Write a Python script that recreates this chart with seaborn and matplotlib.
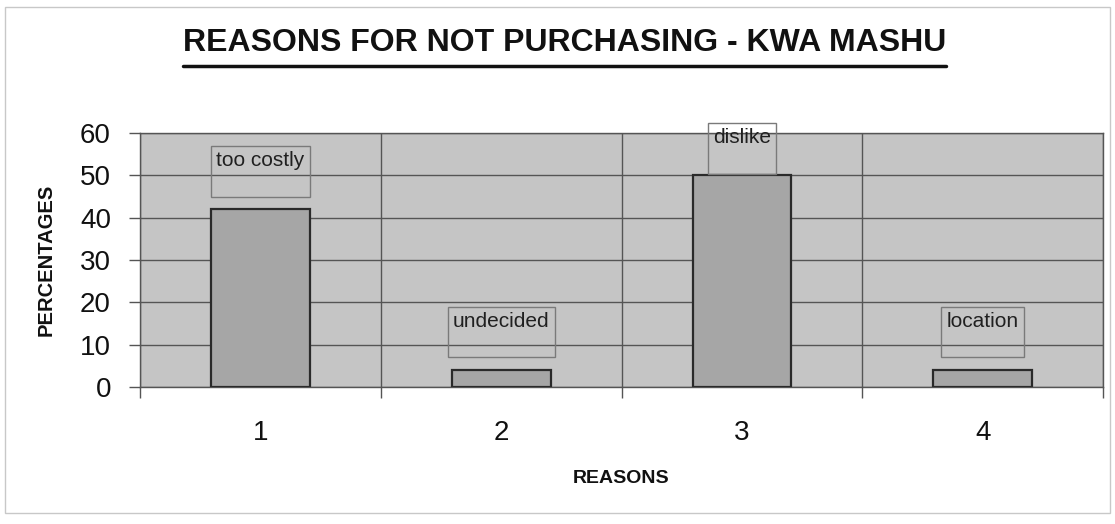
import numpy as np
import pandas as pd
import matplotlib
matplotlib.use("Agg")
import matplotlib.pyplot as plt
import seaborn as sns
from matplotlib.lines import Line2D
from matplotlib.patches import Rectangle

# 数据
reasons = ["1", "2", "3", "4"]
percentages = [42, 4, 50, 4]
bar_labels = ["too costly", "undecided", "dislike", "location"]
y_ticks = [0, 10, 20, 30, 40, 50, 60]

sns.set_style(style="white")
plt.rcParams["font.family"] = ["Liberation Sans", "DejaVu Sans"]

df = pd.DataFrame({"reason": reasons, "pct": percentages})

fig = plt.figure(figsize=(11.15, 5.24), dpi=100)
fig.patch.set_facecolor("white")
ax = fig.add_axes([0.1256, 0.2615, 0.8637, 0.4847])
ax.set_facecolor("#c5c5c5")

sns.barplot(data=df, x="reason", y="pct", color="#a6a6a6", width=0.41,
            edgecolor="#2a2a2a", linewidth=1.6, saturation=1, ax=ax, zorder=3)

# 数据标签：带框的文字，最高不超出绘图区太多
for i, (v, lab) in enumerate(zip(percentages, bar_labels)):
    ax.text(i, min(v + 4.2, 51.6), lab + "\n", ha="center", va="bottom", fontsize=15,
            color="#202020", linespacing=1.15, zorder=4, clip_on=False,
            bbox=dict(boxstyle="square,pad=0.25", facecolor="none",
                      edgecolor="#7a7a7a", linewidth=1))

ax.set_ylim(0, 60)
ax.set_xlim(-0.5, 3.5)
ax.set_yticks(y_ticks)
ax.set_xticks(range(len(reasons)))
ax.set_xticks(np.arange(-0.5, 4, 1), minor=True)
ax.grid(axis="y", which="major", color="#555555", linewidth=1, zorder=1)
ax.grid(axis="x", which="minor", color="#555555", linewidth=1, zorder=1)
ax.tick_params(axis="x", which="major", length=0, pad=24, labelsize=20, colors="#111111")
ax.tick_params(axis="x", which="minor", length=8, width=1, color="#555555", direction="out", bottom=True)
ax.tick_params(axis="y", which="major", length=8, width=1, color="#555555", pad=13,
               labelsize=20, labelcolor="#111111", left=True)
for s in ax.spines.values():
    s.set_color("#555555")
    s.set_linewidth(1)

ax.set_xlabel("REASONS", fontsize=14, fontweight="bold", color="#111111")
ax.set_ylabel("PERCENTAGES", fontsize=14.5, fontweight="bold", color="#111111")
ax.xaxis.set_label_coords(0.5, -0.325)
ax.yaxis.set_label_coords(-0.088, 0.5)

title = fig.text(0.506, 1 - 43 / 524, "REASONS FOR NOT PURCHASING - KWA MASHU",
                 ha="center", va="center", fontsize=23, fontweight="bold", color="#111111")
fig.canvas.draw()
bb = title.get_window_extent(fig.canvas.get_renderer())
W, H = fig.get_size_inches() * fig.dpi
y_line = (bb.y0 - 8) / H
fig.add_artist(Line2D([bb.x0 / W, bb.x1 / W], [y_line, y_line], color="#111111", linewidth=2.5))

# 外框
fig.add_artist(Rectangle((5 / W, 1 - 513 / H), 1105 / W, 506 / H, fill=False,
                         edgecolor="#c8c8c8", linewidth=1, transform=fig.transFigure))

fig.savefig("out.png", dpi=100)
